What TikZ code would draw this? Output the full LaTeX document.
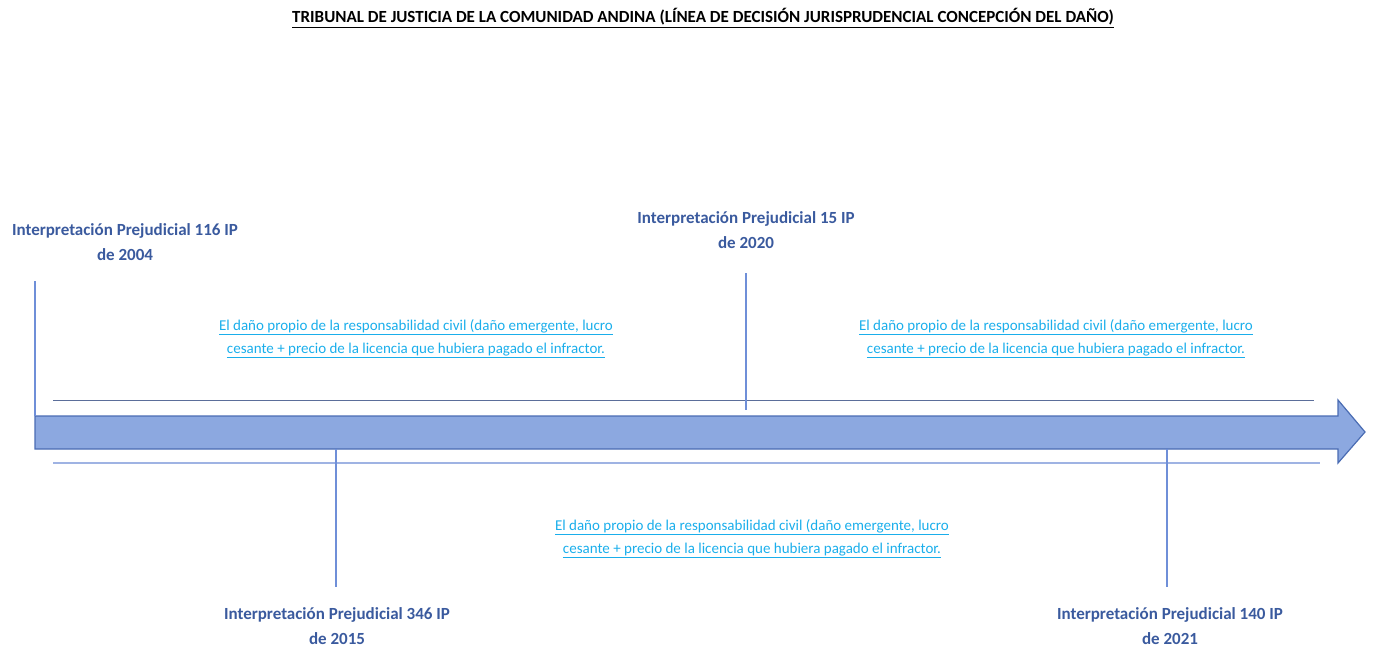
\documentclass[tikz,border=0pt]{standalone}
\usepackage{fontspec}
\setmainfont{Carlito}
\newcommand\myul[1]{\underline{#1}}
\definecolor{lblblue}{HTML}{3A5A9E}
\definecolor{linkblue}{HTML}{1AAEEB}
\definecolor{arrowfill}{HTML}{8CA8E0}
\definecolor{arrowdraw}{HTML}{4A6CB3}
\definecolor{tickblue}{HTML}{6F8FD8}
\definecolor{topline}{HTML}{5B6E9A}
\definecolor{botline}{HTML}{9FB3E3}
\tikzset{
  lbl/.style={font=\fontsize{17}{24.5}\selectfont\bfseries, text=lblblue, align=center, inner sep=0pt},
  link/.style={font=\fontsize{15}{23}\selectfont, text=linkblue, align=center, inner sep=0pt},
  tick/.style={draw=tickblue, line width=1.1pt},
}
\begin{document}
\begin{tikzpicture}[x=1pt,y=-1pt]
\useasboundingbox (0,0) rectangle (1373,647);
% title
\node[font=\fontsize{17}{20}\selectfont\bfseries, inner sep=0pt] (title) at (703,18) {\myul{TRIBUNAL DE JUSTICIA DE LA COMUNIDAD ANDINA (LÍNEA DE DECISIÓN JURISPRUDENCIAL CONCEPCIÓN DEL DAÑO)}};
% guide lines
\coordinate (tl1) at (53,400); \coordinate (tl2) at (1314,400);
\coordinate (bl1) at (53,463); \coordinate (bl2) at (1320,463);
\draw[topline, line width=1pt] (tl1) -- (tl2);
\draw[botline, line width=1.2pt] (bl1) -- (bl2);
% timeline arrow
\draw[fill=arrowfill, draw=arrowdraw, line width=1.2pt, line join=miter]
  (35,416) -- (1338,416) -- (1338,400) -- (1365,432) -- (1338,463) -- (1338,449) -- (35,449) -- cycle;
% ticks
\coordinate (t1a) at (35,281); \coordinate (t1b) at (35,416);
\coordinate (t2a) at (746,273); \coordinate (t2b) at (746,410);
\coordinate (t3a) at (336,449); \coordinate (t3b) at (336,587);
\coordinate (t4a) at (1167,449); \coordinate (t4b) at (1167,587);
\draw[tick] (t1a) -- (t1b);
\draw[tick] (t2a) -- (t2b);
\draw[tick] (t3a) -- (t3b);
\draw[tick] (t4a) -- (t4b);
% labels
\node[lbl] (ip116) at (125,242) {Interpretación Prejudicial 116 IP\\de 2004};
\node[lbl] (ip15) at (746,230) {Interpretación Prejudicial 15 IP\\de 2020};
\node[lbl] (ip346) at (337,626) {Interpretación Prejudicial 346 IP\\de 2015};
\node[lbl] (ip140) at (1170,626) {Interpretación Prejudicial 140 IP\\de 2021};
% link texts
\node[link] (d1) at (416,339) {\myul{El daño propio de la responsabilidad civil (daño emergente, lucro}\\\myul{cesante + precio de la licencia que hubiera pagado el infractor.}};
\node[link] (d2) at (1056,339) {\myul{El daño propio de la responsabilidad civil (daño emergente, lucro}\\\myul{cesante + precio de la licencia que hubiera pagado el infractor.}};
\node[link] (d3) at (752,539) {\myul{El daño propio de la responsabilidad civil (daño emergente, lucro}\\\myul{cesante + precio de la licencia que hubiera pagado el infractor.}};
\end{tikzpicture}
\end{document}
